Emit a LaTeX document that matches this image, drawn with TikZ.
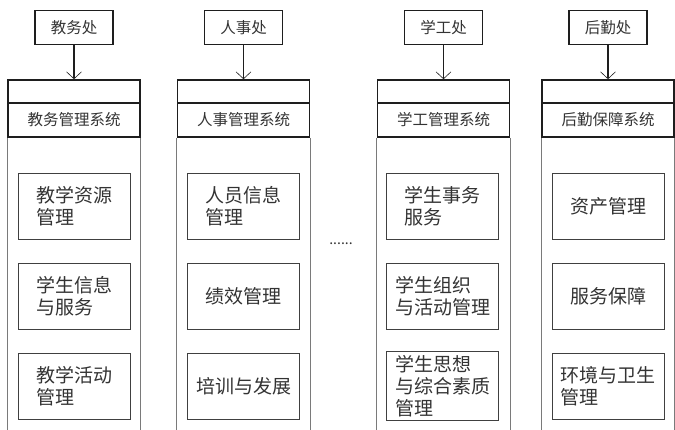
\documentclass[tikz,border=0pt]{standalone}
\usepackage{fontspec}
\setmainfont{Noto Sans CJK SC}
\usetikzlibrary{arrows.meta, positioning}
\definecolor{cline}{HTML}{1E1E1E}
\definecolor{cgrey}{HTML}{7A7A7A}
\definecolor{ctext}{HTML}{333333}
\tikzset{
  headbox/.style={draw=cline, line width=1.8pt, minimum width=78pt, minimum height=34pt, font=\fontsize{15.5}{18}\selectfont, text=ctext},
  band/.style={draw=cline, line width=1.6pt, minimum width=132pt, minimum height=23pt},
  sysbox/.style={draw=cline, line width=1.6pt, minimum width=132pt, minimum height=34pt, font=\fontsize{15.5}{18}\selectfont, text=ctext},
  itembox/.style={draw=cline!85, line width=0.9pt, minimum width=112pt, minimum height=66pt, align=left, font=\fontsize{19}{22}\selectfont, text=ctext},
  arrow/.style={-{Straight Barb[length=7pt, width=15pt, line width=0.6pt]}, draw=cline, line width=1.8pt},
  colline/.style={draw=cgrey, line width=1.3pt},
}
\begin{document}
\begin{tikzpicture}[x=1pt, y=-1pt]
  \useasboundingbox (0,0) rectangle (675,429);

  \node[headbox] (jw) at (74,27.5) {教务处};
  \node[band] (jwband) at (74,91.5) {};
  \node[sysbox] (jwsys) at (74,120) {教务管理系统};
  \draw[arrow] (jw) -- (jwband);
  \draw[colline] (jwsys.south west) -- ++(0,300);
  \draw[colline] (jwsys.south east) -- ++(0,300);
  \node[itembox] (jw1) at (74,206) {教学资源\\管理};
  \node[itembox] (jw2) at (74,296) {学生信息\\与服务};
  \node[itembox] (jw3) at (74,386) {教学活动\\管理};

  \node[headbox] (rs) at (243.5,27.5) {人事处};
  \node[band] (rsband) at (243.5,91.5) {};
  \node[sysbox] (rssys) at (243.5,120) {人事管理系统};
  \draw[arrow] (rs) -- (rsband);
  \draw[colline] (rssys.south west) -- ++(0,300);
  \draw[colline] (rssys.south east) -- ++(0,300);
  \node[itembox] (rs1) at (243.5,206) {人员信息\\管理};
  \node[itembox] (rs2) at (243.5,296) {绩效管理};
  \node[itembox] (rs3) at (243.5,386) {培训与发展};

  \node[font=\fontsize{14}{16}\selectfont, text=ctext] (dots) at (341,244) {......};

  \node[headbox] (xg) at (443.5,27.5) {学工处};
  \node[band] (xgband) at (443.5,91.5) {};
  \node[sysbox] (xgsys) at (443.5,120) {学工管理系统};
  \draw[arrow] (xg) -- (xgband);
  \draw[colline] (xgsys.south west) -- ++(0,300);
  \draw[colline] (xgsys.south east) -- ++(0,300);
  \node[itembox] (xg1) at (442.5,206) {学生事务\\服务};
  \node[itembox] (xg2) at (442.5,296) {学生组织\\与活动管理};
  \node[itembox] (xg3) at (442.5,386) {学生思想\\与综合素质\\管理};

  \node[headbox] (hq) at (608,27.5) {后勤处};
  \node[band] (hqband) at (608,91.5) {};
  \node[sysbox] (hqsys) at (608,120) {后勤保障系统};
  \draw[arrow] (hq) -- (hqband);
  \draw[colline] (hqsys.south west) -- ++(0,300);
  \draw[colline] (hqsys.south east) -- ++(0,300);
  \node[itembox] (hq1) at (608,206) {资产管理};
  \node[itembox] (hq2) at (608,296) {服务保障};
  \node[itembox] (hq3) at (608,386) {环境与卫生\\管理};
\end{tikzpicture}
\end{document}
